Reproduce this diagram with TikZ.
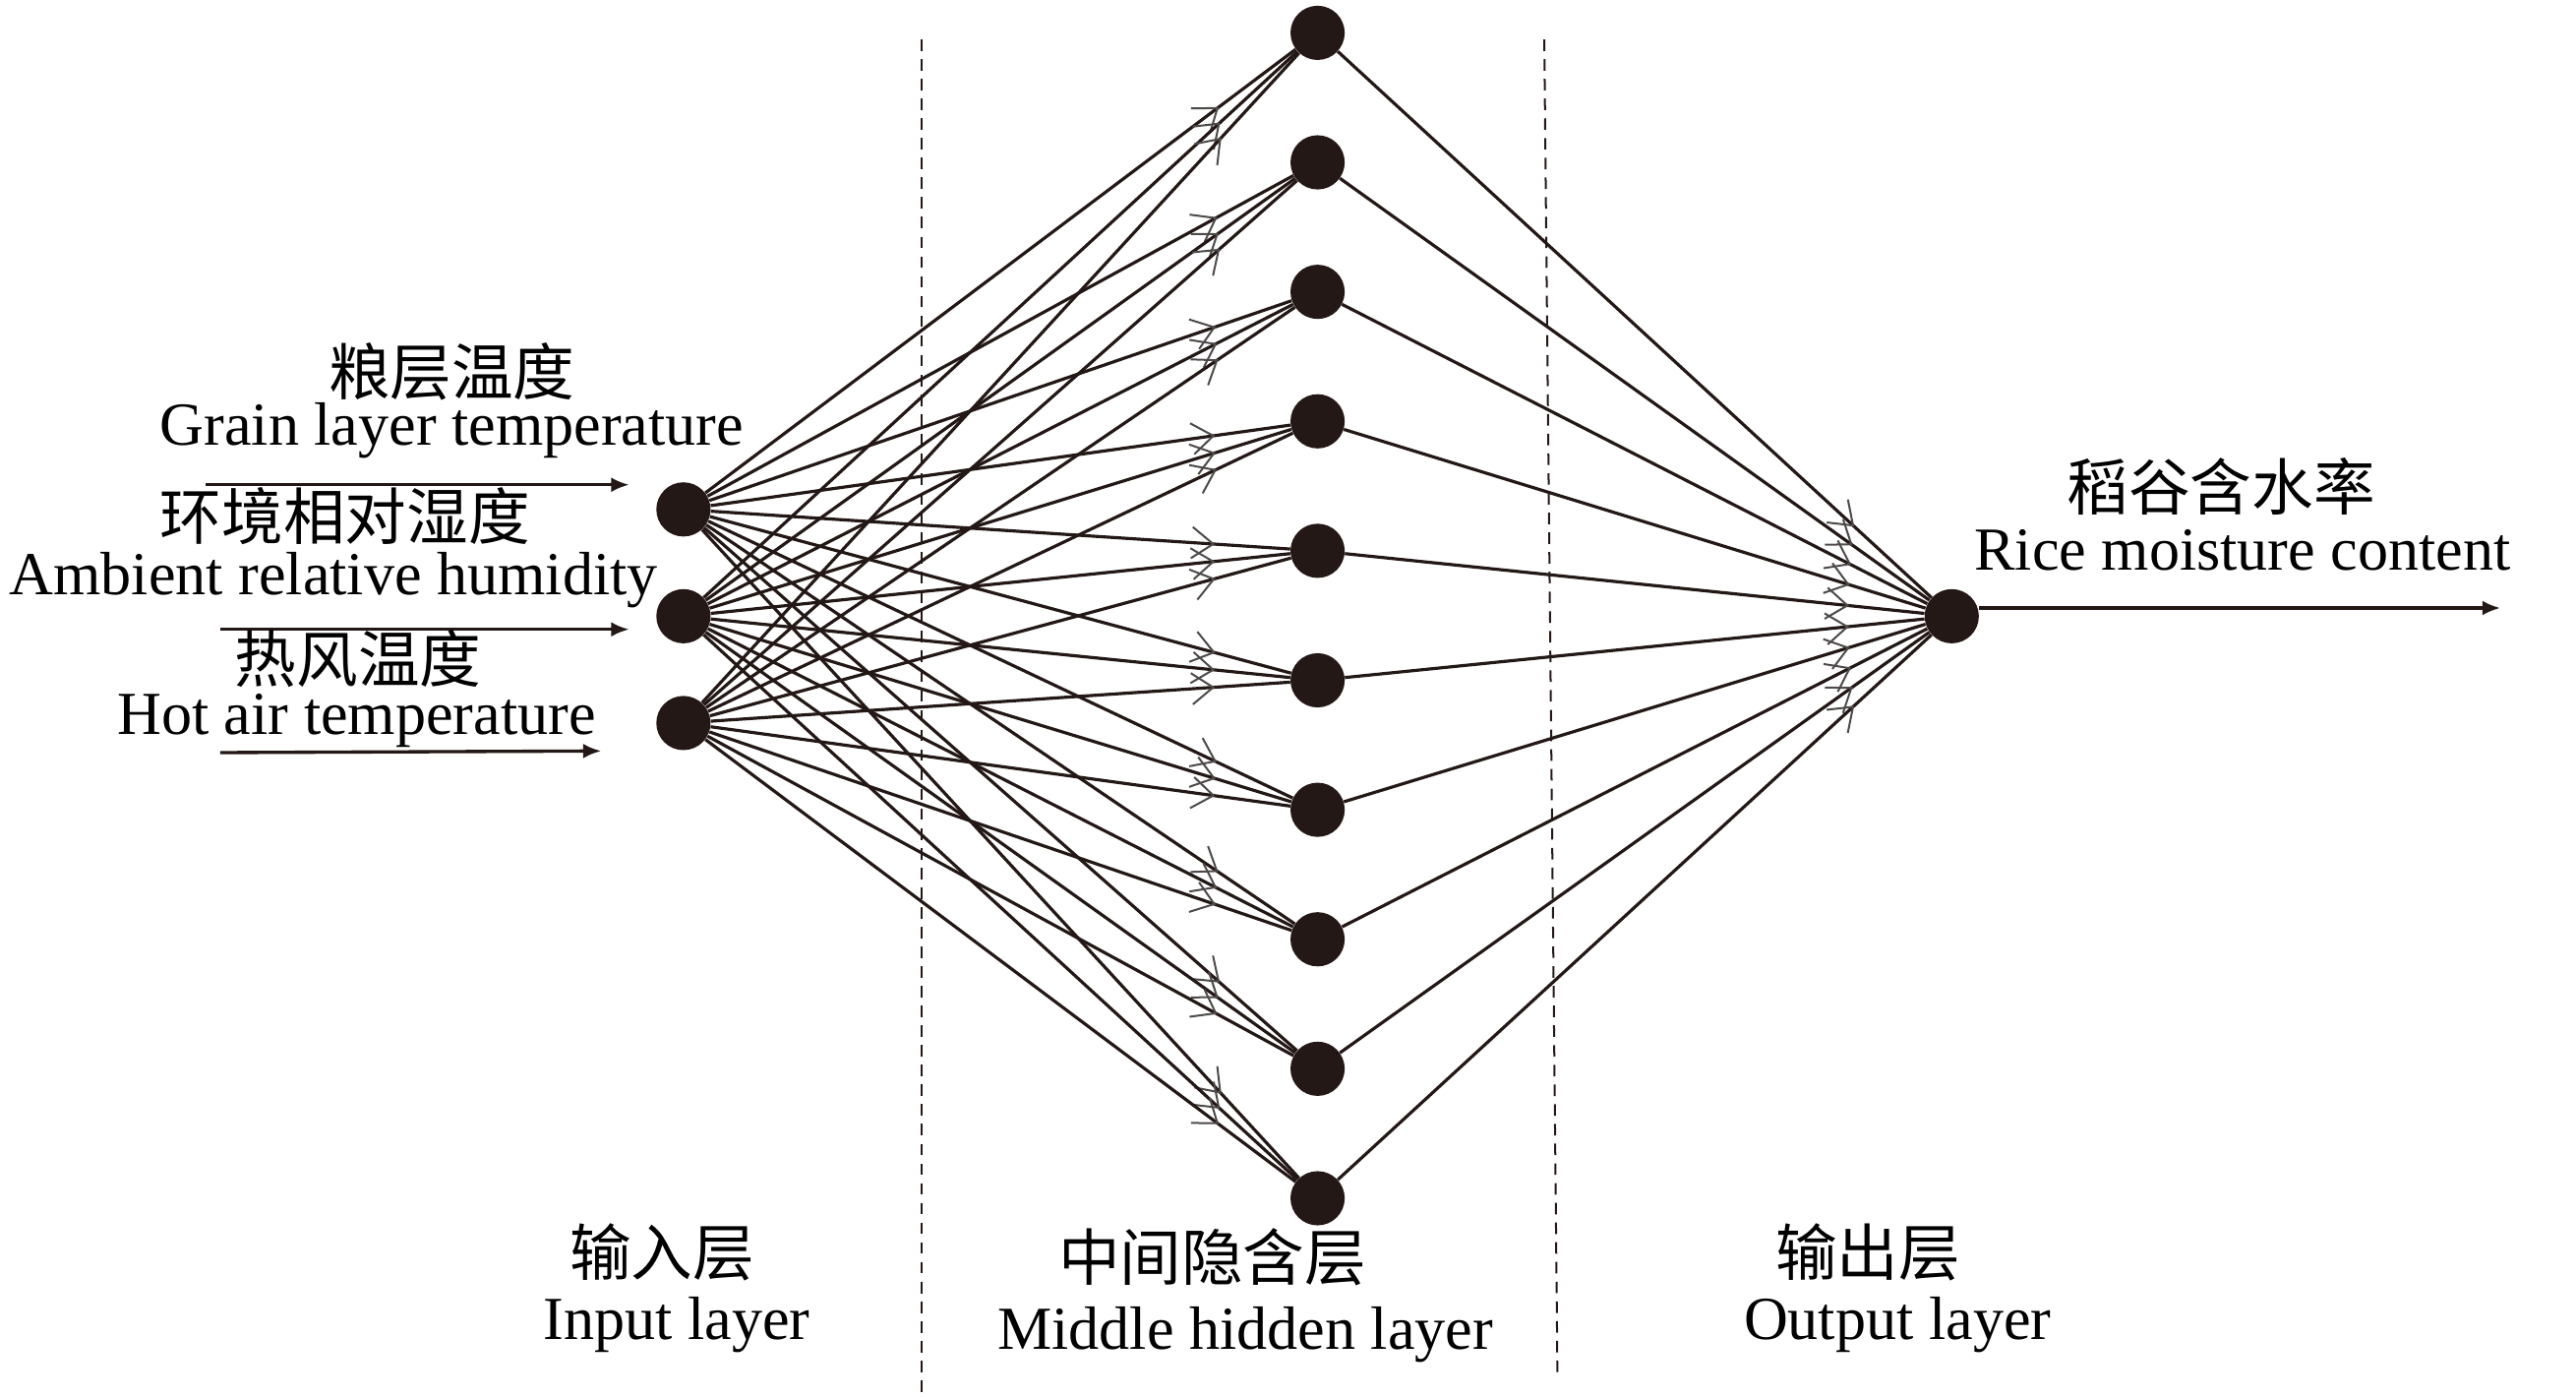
\documentclass[tikz,border=0pt]{standalone}
\usepackage{fontspec}
\setmainfont{Liberation Serif}
\newfontfamily\cjk{Noto Sans CJK SC}
\usetikzlibrary{arrows.meta,decorations.markings}
\definecolor{ink}{HTML}{231815}
\definecolor{barb}{HTML}{4E4A4A}

\begin{document}
\begin{tikzpicture}[x=1pt,y=-1pt,
          neuron/.style={circle,fill=ink,minimum size=33pt,inner sep=0pt},
          link/.style={draw=ink,line width=1.9pt,postaction={decorate},
            decoration={markings,mark=at position 0.87 with {\arrow[barb,line width=1.2pt]{Straight Barb[length=13pt,width=19pt]}}}},
          feed/.style={draw=ink,line width=2pt,-{Latex[length=11pt,width=9pt]}},
          divider/.style={draw=ink,line width=1.2pt,dash pattern=on 7pt off 5pt},
          en/.style={font=\fontsize{37.2}{40}\selectfont,inner sep=0pt,anchor=base},
          zh/.style={font=\cjk\fontsize{37.5}{40}\selectfont,inner sep=0pt}]
  \useasboundingbox (0,0) rectangle (1568,850.7);
  \foreach \n/\y in {1/310,2/375,3/440}
    \node[neuron] (in\n) at (416,\y) {};
  \foreach \n in {1,...,10}
    \node[neuron] (hid\n) at (802,{20+78.8*(\n-1)}) {};
  \node[neuron] (out) at (1188,375) {};
  \foreach \i in {1,2,3}
    \foreach \j in {1,...,10}
      \draw[link] (in\i) -- (hid\j);
  \foreach \j in {1,...,10}
    \draw[link] (hid\j) -- (out);
  \coordinate (g0) at (125,295); \coordinate (g1) at (383,295);
  \coordinate (h0) at (134,383); \coordinate (h1) at (383,383);
  \coordinate (t0) at (134,458); \coordinate (t1) at (366,457);
  \coordinate (r1) at (1522,370);
  \draw[feed] (g0) -- (g1);
  \draw[feed] (h0) -- (h1);
  \draw[feed] (t0) -- (t1);
  \draw[feed] (out.east |- r1) -- (r1);
  \coordinate (d1a) at (561,24); \coordinate (d1b) at (561,851);
  \coordinate (d2a) at (940,24); \coordinate (d2b) at (948,835);
  \draw[divider] (d1a) -- (d1b);
  \draw[divider] (d2a) -- (d2b);
  \node[zh] (grainzh) at (275,226) {粮层温度};
  \node[en] (grain) at (275,271) {Grain layer temperature};
  \node[zh] (humzh) at (210,314) {环境相对湿度};
  \node[en] (hum) at (203,362) {Ambient relative humidity};
  \node[zh] (hotzh) at (218,401) {热风温度};
  \node[en] (hot) at (217,447) {Hot air temperature};
  \node[zh] (ricezh) at (1352,296) {稻谷含水率};
  \node[en] (rice) at (1365,347) {Rice moisture content};
  \node[zh] (inzh) at (403,762) {输入层};
  \node[en] (inl) at (412,815) {Input layer};
  \node[zh] (midzh) at (738,765) {中间隐含层};
  \node[en] (mid) at (758,821) {Middle hidden layer};
  \node[zh] (outzh) at (1137,762) {输出层};
  \node[en] (outl) at (1155,815) {Output layer};
\end{tikzpicture}
\end{document}
